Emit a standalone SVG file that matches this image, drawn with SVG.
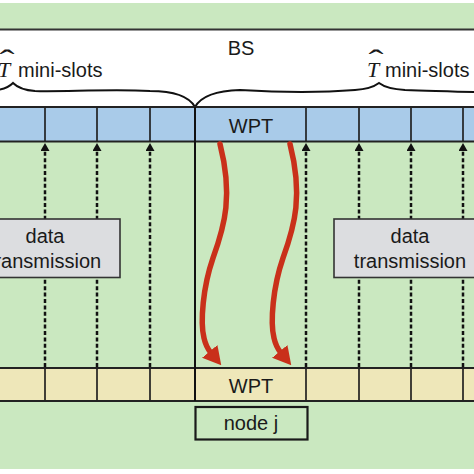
<svg xmlns="http://www.w3.org/2000/svg" width="474" height="474" viewBox="0 0 474 474">
<style>
.lbl{font-family:"Liberation Sans",Arial,sans-serif;font-size:20px;fill:#1a1a1a;text-anchor:middle}
.mlbl{font-family:"Liberation Sans",Arial,sans-serif;font-size:20px;fill:#1a1a1a}
.tv{font-family:"Liberation Serif","Times New Roman",serif;font-style:italic;font-size:22px;fill:#1a1a1a}
.hat{font-family:"Liberation Serif","Times New Roman",serif;font-size:30px;fill:#1a1a1a;text-anchor:middle}
.bar{stroke:#222;stroke-width:2}
.div{stroke:#222;stroke-width:1.7}
.dot{stroke:#111;stroke-width:2.5;stroke-dasharray:4 2.4;fill:none;marker-end:url(#up)}
.red{stroke:#c9301a;stroke-width:5.5;fill:none;stroke-linecap:round;marker-end:url(#rh)}
.brace{stroke:#111;stroke-width:2;fill:none}
</style>
<defs>
<marker id="up" markerUnits="userSpaceOnUse" markerWidth="8" markerHeight="9" viewBox="0 0 8 9" refX="0" refY="4.5" orient="auto"><path d="M0,0 L8,4.5 L0,9 z" fill="#111"/></marker>
<marker id="rh" markerUnits="userSpaceOnUse" markerWidth="18" markerHeight="20" viewBox="0 0 18 20" refX="2" refY="10" orient="auto"><path d="M0,0 L18,10 L0,20 z" fill="#c9301a"/></marker>
</defs>
<rect x="0" y="0" width="474" height="474" fill="#ffffff"/>
<rect x="0" y="3" width="474" height="26" fill="#cae8c0"/>
<line x1="0" y1="29.5" x2="474" y2="29.5" stroke="#333" stroke-width="2"/>
<rect x="0" y="141" width="474" height="328" fill="#cae8c0"/>

<g id="bs-label"><text class="lbl" x="241" y="55">BS</text></g>
<g id="brace-left">
<path class="brace" d="M195,107 Q186,91 150,91 C110,89 60,92 35,91 Q20,90 13,83 Q6,90 -10,91 L-20,91"/>
<text class="tv" x="-2" y="76.5">T</text>
<g transform="translate(7,70) scale(1.5,1)"><text class="hat" x="0" y="0">ˆ</text></g>
<text class="mlbl" x="18" y="76.5">mini-slots</text>
</g>
<g id="brace-right">
<path class="brace" d="M195,107 Q204,91 240,90 C290,93 330,92 355,90 Q371,89 379,83 Q387,89 405,90 C440,91 460,92 480,92"/>
<text class="tv" x="367" y="76.5">T</text>
<g transform="translate(376,70) scale(1.5,1)"><text class="hat" x="0" y="0">ˆ</text></g>
<text class="mlbl" x="385" y="76.5">mini-slots</text>
</g>

<g id="bs-bar">
<rect class="bar" x="-5" y="107" width="490" height="34.5" fill="#a9cbe9"/>
<g class="div"><line x1="45" y1="107" x2="45" y2="141.5"/><line x1="97" y1="107" x2="97" y2="141.5"/><line x1="150" y1="107" x2="150" y2="141.5"/><line x1="306" y1="107" x2="306" y2="141.5"/><line x1="359" y1="107" x2="359" y2="141.5"/><line x1="411" y1="107" x2="411" y2="141.5"/><line x1="463" y1="107" x2="463" y2="141.5"/></g>
<text class="lbl" x="251" y="133">WPT</text>
</g>

<g id="node-bar">
<rect class="bar" x="-5" y="368" width="490" height="33" fill="#eee7b9"/>
<g class="div"><line x1="45" y1="368" x2="45" y2="401"/><line x1="97" y1="368" x2="97" y2="401"/><line x1="150" y1="368" x2="150" y2="401"/><line x1="306" y1="368" x2="306" y2="401"/><line x1="359" y1="368" x2="359" y2="401"/><line x1="411" y1="368" x2="411" y2="401"/><line x1="463" y1="368" x2="463" y2="401"/></g>
<text class="lbl" x="251" y="393">WPT</text>
</g>

<line x1="195" y1="107" x2="195" y2="401" stroke="#111" stroke-width="2"/>

<g id="connectors">
<path class="dot" d="M45,367 L45,151"/>
<path class="dot" d="M97,367 L97,151"/>
<path class="dot" d="M150,367 L150,151"/>
<path class="dot" d="M306,367 L306,151"/>
<path class="dot" d="M359,367 L359,151"/>
<path class="dot" d="M411,367 L411,151"/>
<path class="dot" d="M463,367 L463,151"/>
<path class="red" d="M220,144 C233,195 225,225 213,258 C203,287 200,322 204,338 Q206,347 211,353"/>
<path class="red" d="M290,144 C303,195 295,225 283,258 C273,287 270,322 274,338 Q276,347 281,353"/>
</g>

<g id="data-left">
<rect x="-35" y="219" width="155" height="58.5" fill="#dcdde0" stroke="#333" stroke-width="1.6"/>
<text class="lbl" x="45" y="243">data</text>
<text class="lbl" x="45" y="268">transmission</text>
</g>
<g id="data-right">
<rect x="334" y="219" width="155" height="58.5" fill="#dcdde0" stroke="#333" stroke-width="1.6"/>
<text class="lbl" x="410" y="243">data</text>
<text class="lbl" x="410" y="268">transmission</text>
</g>

<g id="node-j">
<rect x="195.5" y="407" width="112" height="32.5" fill="#cae8c0" stroke="#1a1a1a" stroke-width="2.2"/>
<text class="lbl" x="251" y="430">node j</text>
</g>
</svg>
